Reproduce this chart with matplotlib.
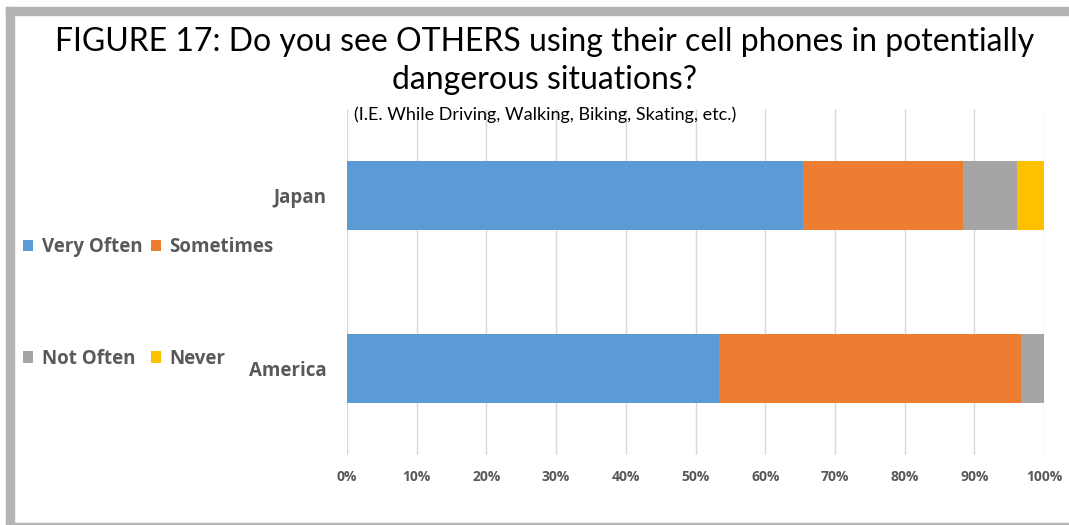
import numpy as np
import matplotlib.pyplot as plt
from matplotlib.patches import Rectangle
from matplotlib.ticker import PercentFormatter

# data (share of answers, in %)
countries = ["America", "Japan"]
answers = ["Very Often", "Sometimes", "Not Often", "Never"]
very_often = [53.4, 65.4]
sometimes = [43.3, 23.0]
not_often = [3.3, 7.7]
never = [0.0, 3.9]
colors = ["#5B9BD5", "#ED7D31", "#A5A5A5", "#FFC000"]
xticks = [0, 10, 20, 30, 40, 50, 60, 70, 80, 90, 100]

plt.rcParams['font.family'] = ['Lato', 'DejaVu Sans']
label_font = ['Open Sans', 'DejaVu Sans']

W, H = 1069, 525
fig = plt.figure(figsize=(W / 100, H / 100), dpi=100)


# gray frame around the figure, in pixels
def frame(x0, y0, x1, y1):
    fig.patches.append(Rectangle((x0 / W, 1 - y1 / H), (x1 - x0) / W, (y1 - y0) / H,
                                 transform=fig.transFigure, color="#B4B4B4", zorder=0))


frame(6, 7, W, 15)
frame(6, 7, 14, H)
frame(6, 522.5, W, H)

ax = fig.add_axes([347 / W, 1 - 455 / H, 697 / W, 346 / H])

series = [very_often, sometimes, not_often, never]
y = np.arange(len(countries))
left = np.zeros(len(countries))
handles = []
for name, vals, c in zip(answers, series, colors):
    b = ax.barh(y, vals, left=left, height=0.4, color=c, label=name, zorder=2)
    handles.append(b)
    left += np.array(vals)

ax.set_xlim(0, 100)
ax.set_ylim(-0.5, 1.5)
ax.set_xticks(xticks)
ax.xaxis.set_major_formatter(PercentFormatter(decimals=0))
ax.set_yticks(y)
ax.set_yticklabels(countries)
ax.grid(axis="x", color="#D9D9D9", linewidth=1, zorder=0)
for s in ax.spines.values():
    s.set_visible(False)
ax.tick_params(axis="x", length=0, pad=11, labelsize=10, labelcolor="#595959")
ax.tick_params(axis="y", length=0, pad=15, labelsize=13.5, labelcolor="#595959")
for t in ax.get_xticklabels() + ax.get_yticklabels():
    t.set_fontweight("bold")
    t.set_family(label_font)

fig.text(545 / W, 1 - 42 / H, "FIGURE 17: Do you see OTHERS using their cell phones in potentially",
         ha="center", va="center", fontsize=23)
fig.text(545 / W, 1 - 80 / H, "dangerous situations?", ha="center", va="center", fontsize=23)
fig.text(545 / W, 1 - 115 / H, "(I.E. While Driving, Walking, Biking, Skating, etc.)",
         ha="center", va="center", fontsize=13)

# legend filled by columns: Very Often / Not Often, Sometimes / Never
order = [0, 2, 1, 3]
leg = fig.legend([handles[i] for i in order], [answers[i] for i in order],
                 ncol=2, loc="upper left", bbox_to_anchor=(6 / W, 1 - 220 / H),
                 frameon=False, handlelength=0.55, handleheight=0.55, handletextpad=0.45,
                 columnspacing=0.45, labelspacing=4.9,
                 prop={"size": 13.5, "weight": "bold", "family": label_font})
for t in leg.get_texts():
    t.set_color("#595959")

fig.savefig("out.png", dpi=100)
